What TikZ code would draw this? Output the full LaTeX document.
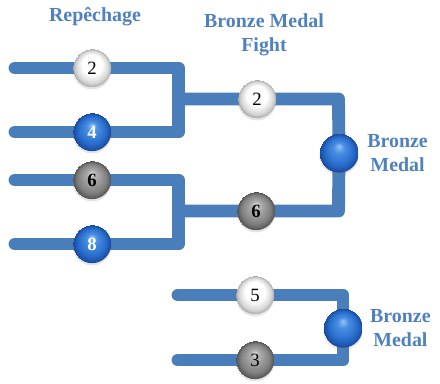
\documentclass[tikz,border=0pt]{standalone}
\usepackage{fontspec}
\setmainfont{Liberation Serif}
\usetikzlibrary{positioning, backgrounds, shadows}

\definecolor{wireblue}{RGB}{74,126,187}
\definecolor{textblue}{RGB}{79,129,189}

% Sphere shadings, highlight near the top
\pgfdeclareradialshading{whitesphere}{\pgfpoint{0bp}{9bp}}{%
  color(0bp)=(white); color(13bp)=(white);
  color(21bp)=(black!16); color(25bp)=(black!34)}
\pgfdeclareradialshading{greysphere}{\pgfpoint{0bp}{9bp}}{%
  color(0bp)=(black!12); color(6bp)=(black!32);
  color(19bp)=(black!50); color(25bp)=(black!68)}
\pgfdeclareradialshading{bluesphere}{\pgfpoint{0bp}{9bp}}{%
  color(0bp)=(rgb,255:red,150;green,195;blue,245);
  color(7bp)=(rgb,255:red,72;green,142;blue,226);
  color(18bp)=(rgb,255:red,40;green,108;blue,204);
  color(25bp)=(rgb,255:red,24;green,72;blue,155)}

\tikzset{
  wire/.style={draw=wireblue, line width=11pt, line cap=round, line join=round},
  ball/.style={circle, minimum size=1.15cm, inner sep=0pt, text=black,
    drop shadow={opacity=0.2, shadow xshift=0pt, shadow yshift=-2pt},
    font=\fontsize{16}{16}\selectfont},
  whiteball/.style={ball, shading=whitesphere},
  greyball/.style={ball, shading=greysphere},
  blueball/.style={ball, shading=bluesphere, text=white},
  heavy/.style={font=\fontsize{16}{16}\selectfont\bfseries},
  medal/.style={circle, minimum size=1.18cm, inner sep=0pt, shading=bluesphere,
    drop shadow={opacity=0.2, shadow xshift=0pt, shadow yshift=-2pt}},
  heading/.style={text=textblue, align=center, inner sep=0pt,
    font=\fontsize{17}{20}\selectfont\bfseries}
}

\begin{document}
\begin{tikzpicture}[x=0.03cm, y=-0.03cm]
  \useasboundingbox (0,0) rectangle (440,383);

  % Define the nodes
  \node[heading] (rep) at (95,17) {Repêchage};
  \node[heading] (fight) at (264,35) {Bronze Medal\\Fight};

  \node[whiteball] (r2) at (92,68) {2};
  \node[blueball, heavy] (r4) at (92,132) {4};
  \node[greyball, heavy] (r6) at (92,180) {6};
  \node[blueball, heavy] (r8) at (92,244) {8};

  \node[whiteball] (f2) at (257,99) {2};
  \node[greyball, heavy] (f6) at (256,211) {6};
  \node[medal] (m1) at (339,153) {};
  \node[heading, right=7pt of m1] (b1) {Bronze\\Medal};

  \node[whiteball] (f5) at (255,295) {5};
  \node[greyball] (f3) at (255,360) {3};
  \node[medal] (m2) at (343,328) {};
  \node[heading, right=6pt of m2] (b2) {Bronze\\Medal};

  % Free ends and corners
  \coordinate (e2) at (15,68);
  \coordinate (e4) at (15,132);
  \coordinate (e6) at (15,180);
  \coordinate (e8) at (15,244);
  \coordinate (e5) at (178,295);
  \coordinate (e3) at (178,360);
  \coordinate (k1) at (178.5,68);
  \coordinate (k2) at (178.5,132);
  \coordinate (k3) at (178.5,180);
  \coordinate (k4) at (178.5,244);
  \coordinate (j1) at (178.5,99);
  \coordinate (j2) at (178.5,211);
  \coordinate (t1) at (338.5,99);
  \coordinate (t2) at (338.5,211);
  \coordinate (t3) at (343,295);
  \coordinate (t4) at (343,360);

  % Draw the edges
  \begin{pgfonlayer}{background}
    \draw[wire] (e2) -- (r2.center) -- (k1) -- (k2) -- (r4.center) -- (e4);
    \draw[wire] (e6) -- (r6.center) -- (k3) -- (k4) -- (r8.center) -- (e8);
    \draw[wire] (j1) -- (f2.center) -- (t1) -- (m1.center) -- (t2) -- (f6.center) -- (j2);
    \draw[wire] (e5) -- (f5.center) -- (t3) -- (m2.center) -- (t4) -- (f3.center) -- (e3);
  \end{pgfonlayer}
\end{tikzpicture}
\end{document}
